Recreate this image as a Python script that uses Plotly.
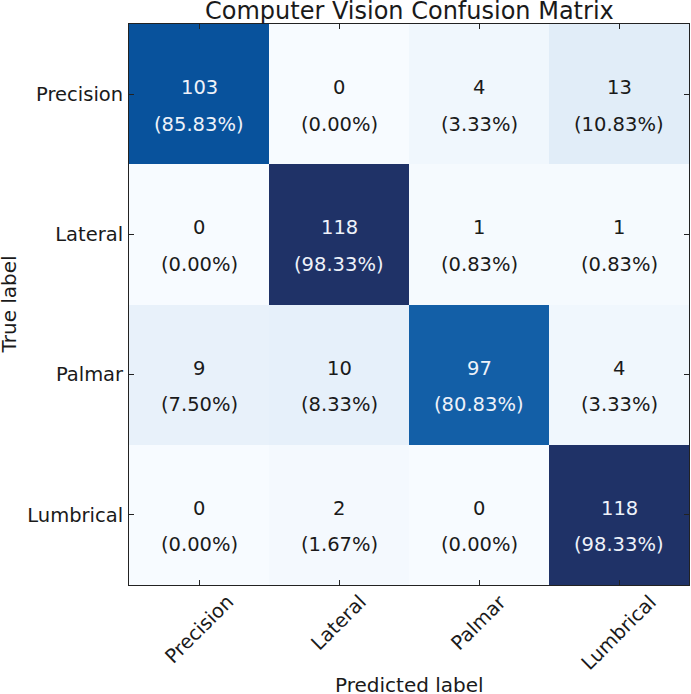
import plotly.graph_objects as go

classes = ["Precision", "Lateral", "Palmar", "Lumbrical"]
counts = [
    [103, 0, 4, 13],
    [0, 118, 1, 1],
    [9, 10, 97, 4],
    [0, 2, 0, 118],
]
percents = [
    [85.83, 0.00, 3.33, 10.83],
    [0.00, 98.33, 0.83, 0.83],
    [7.50, 8.33, 80.83, 3.33],
    [0.00, 1.67, 0.00, 98.33],
]
title_text = "Computer Vision Confusion Matrix"
x_title = "Predicted label"
y_title = "True label"

blues = [
    [0.0, "#f7fbff"], [0.125, "#deebf7"], [0.25, "#c6dbef"],
    [0.375, "#9ecae1"], [0.5, "#6baed6"], [0.625, "#4292c6"],
    [0.75, "#2171b5"], [0.875, "#08519c"], [1.0, "#1f3267"],
]

FONT = "DejaVu Sans"
zmax = max(max(r) for r in counts)
thresh = zmax / 2.0

fig = go.Figure(
    go.Heatmap(
        z=counts, x=classes, y=classes, colorscale=blues,
        zmin=0, zmax=zmax, showscale=False, hoverinfo="skip",
    )
)

ann = []
for i, row in enumerate(counts):
    for j, c in enumerate(row):
        col = "#eef2fa" if c > thresh else "#1a1a1a"
        ann.append(dict(x=classes[j], y=classes[i], xref="x", yref="y",
                        text=str(c), showarrow=False, yshift=6.5,
                        font=dict(family=FONT, size=19.5, color=col)))
        ann.append(dict(x=classes[j], y=classes[i], xref="x", yref="y",
                        text="(%.2f%%)" % percents[i][j], showarrow=False,
                        yshift=-30,
                        font=dict(family=FONT, size=19.5, color=col)))

for cl in classes:
    ann.append(dict(x=cl, y=-0.005, xref="x", yref="paper", text=cl,
                    showarrow=False, textangle=-45, xanchor="center",
                    yanchor="top",
                    font=dict(family=FONT, size=19.5, color="#1a1a1a")))

ann.append(dict(x=0.5, y=1.0239, xref="paper", yref="paper", text=title_text,
                showarrow=False, xanchor="center", yanchor="middle",
                font=dict(family=FONT, size=24, color="#1a1a1a")))
ann.append(dict(x=0.5, y=-0.178, xref="paper", yref="paper", text=x_title,
                showarrow=False, xanchor="center", yanchor="middle",
                font=dict(family=FONT, size=20, color="#1a1a1a")))
ann.append(dict(x=-0.216, y=0.5, xref="paper", yref="paper", text=y_title,
                showarrow=False, xanchor="center", yanchor="middle",
                textangle=-90,
                font=dict(family=FONT, size=20, color="#1a1a1a")))

axis_common = dict(
    showline=True, linecolor="#222", linewidth=1, mirror="ticks",
    ticks="inside", ticklen=5, tickcolor="#222", tickwidth=1,
    showgrid=False, zeroline=False, automargin=False,
)
fig.update_xaxes(**axis_common, showticklabels=False,
                 tickvals=classes)
fig.update_yaxes(**axis_common, autorange="reversed", tickvals=classes,
                 ticklabelstandoff=1,
                 tickfont=dict(family=FONT, size=19.5, color="#1a1a1a"))

fig.update_layout(
    width=691, height=694,
    margin=dict(l=129, r=2, t=24, b=109, autoexpand=False),
    paper_bgcolor="white", plot_bgcolor="white",
    annotations=ann, font=dict(family=FONT),
)

fig.write_html(
    "out.html",
    config={"responsive": False, "displayModeBar": False},
    post_script="document.body.style.margin='0px';"
                "document.body.style.overflow='hidden';",
)
